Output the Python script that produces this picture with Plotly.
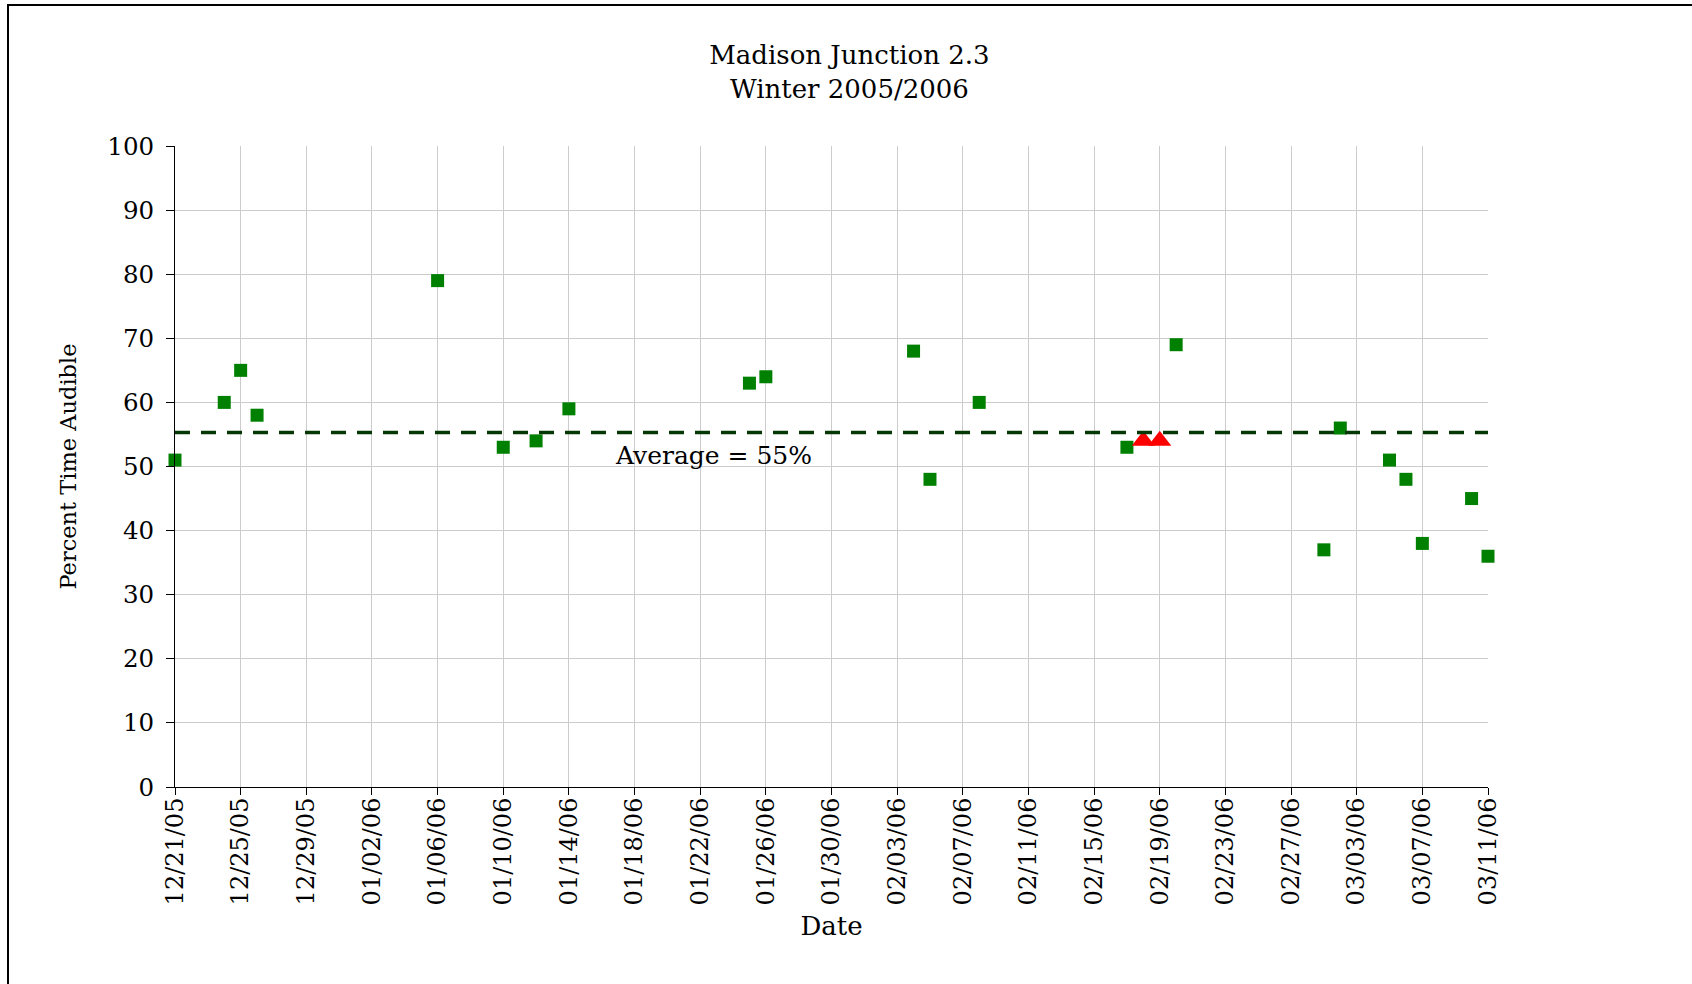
import plotly.graph_objects as go
import pandas as pd

# ---- data ----
green_dates = ["2005-12-21", "2005-12-24", "2005-12-25", "2005-12-26", "2006-01-06",
               "2006-01-10", "2006-01-12", "2006-01-14", "2006-01-25", "2006-01-26",
               "2006-02-04", "2006-02-05", "2006-02-08", "2006-02-17", "2006-02-20",
               "2006-03-01", "2006-03-02", "2006-03-05", "2006-03-06", "2006-03-07",
               "2006-03-10", "2006-03-11"]
green_values = [51, 60, 65, 58, 79, 53, 54, 59, 63, 64, 68, 48, 60, 53, 69,
                37, 56, 51, 48, 38, 45, 36]
red_dates = ["2006-02-18", "2006-02-19"]
red_values = [54, 54]
average_value = 55.3
average_label = "Average = 55%"
average_label_date = "2006-01-22 19:00"
average_label_y = 51.7
x_start = "2005-12-21"
x_end = "2006-03-11"
tick_dates = pd.date_range(x_start, x_end, freq="4D")
tick_labels = [d.strftime("%m/%d/%y") for d in tick_dates]
y_ticks = list(range(0, 101, 10))

FONT = "DejaVu Serif"
W, H = 1692, 984
L, R, T, B = 175, 204, 146, 197
PW, PH = W - L - R, H - T - B

fig = go.Figure()
fig.add_trace(go.Scatter(
    x=green_dates, y=green_values, mode="markers",
    marker=dict(symbol="square", size=13, color="#008000"),
    cliponaxis=False, showlegend=False))
fig.add_trace(go.Scatter(
    x=red_dates, y=red_values, mode="markers",
    marker=dict(symbol="triangle-up", size=20, color="#ff0000"),
    cliponaxis=False, showlegend=False))

# average line
fig.add_shape(type="line", xref="paper", yref="y", x0=0, x1=1,
              y0=average_value, y1=average_value,
              line=dict(color="#063806", width=3.5, dash="15px,11px"), layer="above")
fig.add_annotation(x=average_label_date, y=average_label_y, text=average_label,
                   showarrow=False, font=dict(family=FONT, size=25, color="black"))

# outer border (left and top edges visible)
def px_x(p):
    return (p - L) / PW

def px_y(p):
    return (H - B - p) / PH

fig.add_shape(type="line", xref="paper", yref="paper",
              x0=px_x(8), x1=px_x(8), y0=px_y(4), y1=px_y(1000),
              line=dict(color="black", width=2))
fig.add_shape(type="line", xref="paper", yref="paper",
              x0=px_x(7), x1=px_x(1710), y0=px_y(5), y1=px_y(5),
              line=dict(color="black", width=2))

fig.update_layout(
    width=W, height=H,
    margin=dict(l=L, r=R, t=T, b=B, autoexpand=False),
    paper_bgcolor="white", plot_bgcolor="white",
    font=dict(family=FONT, size=24, color="black"),
    title=dict(text="Madison Junction 2.3<br>Winter 2005/2006",
               x=0.502, xanchor="center", y=1 - 64 / H, yanchor="middle",
               yref="container", font=dict(family=FONT, size=26, color="black")),
    xaxis=dict(
        type="date", range=[x_start, x_end],
        tickmode="array", tickvals=tick_dates, ticktext=tick_labels,
        tickangle=-90, ticks="outside", ticklen=7, tickcolor="black",
        ticklabelstandoff=-7,
        showgrid=True, gridcolor="#cccccc", gridwidth=1,
        showline=True, linecolor="black", linewidth=1,
        zeroline=False,
        title=dict(text="Date", standoff=12, font=dict(family=FONT, size=26)),
        tickfont=dict(family=FONT, size=24)),
    yaxis=dict(
        range=[0, 100], tickvals=y_ticks,
        ticks="outside", ticklen=8, tickcolor="black",
        ticklabelstandoff=7,
        showgrid=True, gridcolor="#cccccc", gridwidth=1,
        showline=True, linecolor="black", linewidth=1,
        zeroline=False,
        title=dict(text="Percent Time Audible", standoff=24, font=dict(family=FONT, size=22.5)),
        tickfont=dict(family=FONT, size=24.5)),
)

fig.write_html("out.html", config={"displayModeBar": False},
               post_script="document.body.style.margin='0';")
